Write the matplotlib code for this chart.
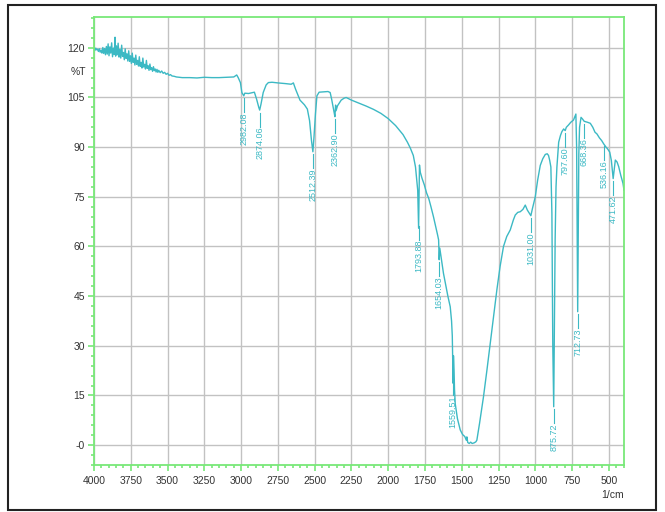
import numpy as np
import matplotlib.pyplot as plt
from matplotlib.patches import Rectangle
from matplotlib.ticker import MultipleLocator, FuncFormatter

# --- FTIR spectrum, read in segments (wavenumber 1/cm, %T) ---
wn_oh = [4000, 3994, 3988, 3982, 3976, 3970, 3964, 3958, 3952, 3946,
         3940, 3934, 3928, 3922, 3916, 3910, 3904, 3898, 3892, 3886,
         3880, 3874, 3868, 3862, 3857, 3853, 3848, 3842, 3836, 3830,
         3824, 3818, 3812, 3806, 3800, 3794, 3788, 3782, 3776, 3770,
         3764, 3758, 3752, 3746, 3740, 3734, 3728, 3722, 3716, 3710,
         3704, 3698, 3692, 3686, 3680, 3674, 3668, 3662, 3656, 3650,
         3644, 3638, 3632, 3626, 3620, 3614, 3608, 3602, 3596, 3590,
         3584, 3578, 3572, 3566, 3560, 3550, 3540, 3530, 3520, 3510,
         3500, 3490, 3480, 3470, 3455, 3440, 3400, 3350, 3300, 3250,
         3200, 3150, 3100, 3050]
t_oh = [119.8, 119.2, 119.9, 119.4, 119.6, 118.9, 119.7, 118.7, 119.3, 118.4,
        120.1, 118.3, 119.8, 117.9, 120.4, 118.1, 121.2, 117.6, 120.3, 118.4,
        121.5, 117.3, 119.9, 118.0, 123.2, 117.5, 120.6, 117.9, 121.4, 117.2,
        119.5, 116.9, 120.8, 117.4, 118.6, 116.4, 119.7, 116.8, 118.2, 116.0,
        119.1, 115.9, 117.6, 115.3, 118.4, 115.6, 116.9, 114.8, 117.8, 115.0,
        116.2, 114.5, 117.3, 114.4, 115.6, 113.9, 116.9, 114.2, 115.0, 113.6,
        116.2, 113.8, 114.6, 113.2, 115.1, 113.4, 114.0, 112.9, 114.3, 113.1,
        113.6, 112.7, 113.5, 112.6, 113.2, 112.5, 113.0, 112.3, 112.6, 112.0,
        112.3, 111.7, 111.9, 111.5, 111.4, 111.2, 111.0, 111.0, 110.9, 111.1,
        111.0, 111.0, 111.1, 111.2]

wn_ch = [3030, 3020, 3005, 2995, 2985, 2982.08, 2975, 2950, 2930, 2910,
         2895, 2880, 2874.06, 2865, 2850, 2830, 2815, 2790, 2750, 2700,
         2660, 2645, 2630, 2600, 2570, 2550, 2535, 2522, 2512.39, 2505,
         2495, 2485, 2470, 2440, 2410, 2395, 2385, 2372, 2366, 2362.90,
         2358, 2355, 2345, 2320, 2300]
t_ch = [111.8, 111.0, 109.5, 106.5, 105.7, 105.5, 106.3, 106.2, 106.4, 106.6,
        104.5, 102.0, 101.2, 103.0, 106.5, 108.8, 109.5, 109.6, 109.4, 109.2,
        109.0, 109.4, 107.5, 104.2, 102.8, 101.5, 98.0, 92.0, 88.6, 93.0,
        100.0, 105.5, 106.6, 106.7, 106.8, 106.5, 104.5, 101.5, 100.0, 99.2,
        102.7, 101.0, 102.5, 104.2, 104.8]

wn_co = [2286, 2250, 2200, 2150, 2100, 2050, 2000, 1950, 1900, 1870,
         1850, 1830, 1815, 1806, 1800, 1796, 1793.88, 1791, 1788, 1783,
         1770, 1755, 1740, 1725, 1710, 1693, 1680, 1665, 1658, 1654.03,
         1650, 1640, 1625, 1610, 1595, 1579, 1570, 1565, 1562, 1559.51,
         1557, 1553, 1550, 1545, 1530, 1511, 1495, 1480, 1470, 1466,
         1460, 1450, 1440, 1430, 1416, 1405]
t_co = [105.0, 104.2, 103.3, 102.4, 101.4, 100.2, 98.6, 96.5, 93.8, 91.5,
        89.7, 87.5, 84.0, 80.0, 77.0, 70.0, 65.5, 75.0, 84.6, 82.5,
        80.5, 78.6, 76.2, 74.5, 72.0, 69.0, 66.5, 63.5, 62.0, 56.0,
        59.5, 56.5, 51.9, 48.5, 45.0, 41.8, 37.5, 33.0, 25.0, 18.7,
        27.0, 22.7, 17.0, 12.5, 8.0, 4.6, 3.2, 2.6, 1.5, 2.5,
        0.8, 0.5, 0.9, 0.5, 0.7, 1.0]

wn_fp = [1398, 1380, 1353, 1330, 1307, 1285, 1262, 1240, 1217, 1195,
         1171, 1150, 1137, 1120, 1103, 1085, 1069, 1055, 1035, 1031.00,
         1020, 1001, 985, 967, 950, 933, 920, 911, 903, 895,
         888, 882, 875.72, 871, 866, 860, 854, 842, 830, 820,
         808, 797.60, 790, 775, 760, 741, 730, 725, 720, 716,
         712.73, 709, 705, 700, 690, 680, 668.36, 661, 645, 627,
         610, 595, 582, 565, 550, 536.16, 520, 510, 495, 484,
         471.62, 465, 457, 445, 434, 420, 405, 398]
t_fp = [1.5, 6.5, 14.6, 22.5, 30.8, 39.0, 46.9, 54.0, 60.0, 63.0,
        65.0, 68.0, 69.5, 70.3, 70.5, 71.2, 72.5, 71.0, 69.6, 69.3,
        71.5, 75.0, 80.0, 84.5, 86.5, 87.8, 88.0, 87.5, 86.0, 84.0,
        70.0, 30.0, 11.6, 35.0, 62.0, 78.0, 84.0, 91.5, 93.5, 94.7,
        95.5, 95.0, 96.0, 96.7, 97.5, 98.2, 99.5, 100.0, 90.0, 60.0,
        40.3, 65.0, 88.0, 96.0, 99.0, 98.5, 97.8, 97.7, 97.5, 97.2,
        96.0, 94.5, 94.0, 92.8, 92.0, 91.0, 90.0, 89.5, 88.5, 86.0,
        80.5, 83.0, 86.1, 85.5, 84.1, 81.5, 79.1, 77.0]

# labelled peaks
peak_wn = [2982.08, 2874.06, 2512.39, 2362.90, 1793.88, 1654.03, 1559.51,
           1031.00, 875.72, 797.60, 712.73, 668.36, 536.16, 471.62]
peak_t = [105.5, 101.2, 88.6, 99.2, 67.0, 56.0, 20.0,
          69.3, 11.6, 95.0, 40.3, 97.8, 91.0, 80.5]

wavenumber = np.concatenate([wn_oh, wn_ch, wn_co, wn_fp])
transmit = np.concatenate([t_oh, t_ch, t_co, t_fp])

TEAL = '#3cb9c4'
GREEN = '#78e878'
plt.rcParams['font.family'] = ['Liberation Sans', 'DejaVu Sans']

fig = plt.figure(figsize=(6.65, 5.12), dpi=100)
ax = fig.add_axes([94 / 665, 1 - 465 / 512, 530 / 665, 448.3 / 512])

ax.plot(wavenumber, transmit, color=TEAL, lw=1.0)

for w, t in zip(peak_wn, peak_t):
    ax.plot([w, w], [t - 0.8, t - 5.0], color=TEAL, lw=0.8)
    ax.text(w, t - 5.0, f'{w:.2f}', rotation=90, ha='center', va='top',
            fontsize=6.5, color=TEAL)

ax.set_xlim(4000, 398)
ax.set_ylim(-6.0, 129.4)
ax.xaxis.set_major_locator(MultipleLocator(250))
ax.xaxis.set_minor_locator(MultipleLocator(50))
ax.yaxis.set_major_locator(MultipleLocator(15))
ax.yaxis.set_minor_locator(MultipleLocator(3))
ax.yaxis.set_major_formatter(FuncFormatter(lambda v, p: '-0' if v == 0 else f'{v:g}'))

ax.grid(which='major', color='#c2c2c2', lw=1.0)
for s in ax.spines.values():
    s.set_color(GREEN)
    s.set_linewidth(1.3)
ax.tick_params(which='both', direction='out', color=GREEN, width=1.2,
               labelsize=7.5, labelcolor='#333333')
ax.tick_params(which='major', length=4.5)
ax.tick_params(which='minor', length=2.5)
ax.tick_params(axis='x', pad=3.5)
ax.tick_params(axis='y', pad=2)

ax.text(-0.015, 112.7, '%T', transform=ax.get_yaxis_transform(),
        ha='right', va='center', fontsize=7.5, color='#333333')
ax.text(1.0, -0.067, '1/cm', transform=ax.transAxes,
        ha='right', va='center', fontsize=7.5, color='#333333')

fig.add_artist(Rectangle((8 / 665, 2 / 512), 648 / 665, 505 / 512,
                         transform=fig.transFigure, fill=False,
                         edgecolor='#222222', lw=1.5))

fig.savefig('out.png', dpi=100)
